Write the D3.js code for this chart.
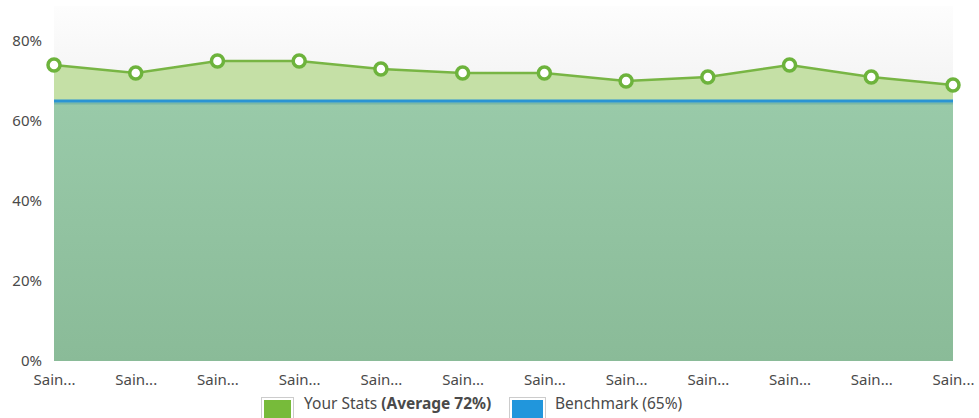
<!DOCTYPE html>
<html>
<head>
<meta charset="utf-8">
<script src="https://cdn.jsdelivr.net/npm/d3@7"></script>
<style>
  body { margin: 0; background: #fff; }
  text { font-family: "Noto Sans", sans-serif; fill: #4a4a4a; }
</style>
</head>
<body>
<svg id="chart" width="979" height="418"></svg>
<script>
// chart data
var categories = ["Sain...", "Sain...", "Sain...", "Sain...", "Sain...", "Sain...",
                  "Sain...", "Sain...", "Sain...", "Sain...", "Sain...", "Sain..."];
var yourStats = [74, 72, 75, 75, 73, 72, 72, 70, 71, 74, 71, 69];
var benchmark = 65;
var yTicks = [0, 20, 40, 60, 80];
var legendLabels = ["Your Stats ", "(Average 72%)", "Benchmark (65%)"];

var svg = d3.select("#chart");
var plotLeft = 54, plotRight = 953, plotTop = 41, plotBottom = 361;

var x = d3.scalePoint()
    .domain(d3.range(categories.length))
    .range([plotLeft, plotRight]);

var y = d3.scaleLinear()
    .domain([0, 80])
    .range([plotBottom, plotTop]);

var defs = svg.append("defs");
var bg = defs.append("linearGradient").attr("id", "bgGrad")
    .attr("x1", 0).attr("y1", 0).attr("x2", 0).attr("y2", 1);
bg.append("stop").attr("offset", "0%").attr("stop-color", "#fdfdfd");
bg.append("stop").attr("offset", "25%").attr("stop-color", "#f3f3f3");
bg.append("stop").attr("offset", "100%").attr("stop-color", "#f3f3f3");

var bm = defs.append("linearGradient").attr("id", "bmGrad")
    .attr("x1", 0).attr("y1", 0).attr("x2", 0).attr("y2", 1);
bm.append("stop").attr("offset", "0%").attr("stop-color", "#99caa9");
bm.append("stop").attr("offset", "100%").attr("stop-color", "#8abb98");

// plot background
svg.append("rect")
    .attr("x", plotLeft).attr("y", 6)
    .attr("width", plotRight - plotLeft).attr("height", plotBottom - 6)
    .attr("fill", "url(#bgGrad)");

// your stats area
var area = d3.area()
    .x(function (d, i) { return x(i); })
    .y0(y(0))
    .y1(function (d) { return y(d); });

svg.append("path")
    .datum(yourStats)
    .attr("d", area)
    .attr("fill", "#c5e0a6");

// benchmark area
svg.append("rect")
    .attr("x", plotLeft).attr("y", y(benchmark))
    .attr("width", plotRight - plotLeft).attr("height", y(0) - y(benchmark))
    .attr("fill", "url(#bmGrad)");

svg.append("line")
    .attr("x1", plotLeft).attr("x2", plotRight)
    .attr("y1", y(benchmark) + 2.5).attr("y2", y(benchmark) + 2.5)
    .attr("stroke", "#7bb8a4").attr("stroke-width", 2);

svg.append("line")
    .attr("x1", plotLeft).attr("x2", plotRight)
    .attr("y1", y(benchmark)).attr("y2", y(benchmark))
    .attr("stroke", "#2a94d3").attr("stroke-width", 3);

// your stats line + markers
var line = d3.line()
    .x(function (d, i) { return x(i); })
    .y(function (d) { return y(d); });

svg.append("path")
    .datum(yourStats)
    .attr("d", line)
    .attr("fill", "none")
    .attr("stroke", "#78b544")
    .attr("stroke-width", 2.5);

svg.selectAll(".dot")
    .data(yourStats)
    .enter().append("circle")
    .attr("class", "dot")
    .attr("cx", function (d, i) { return x(i); })
    .attr("cy", function (d) { return y(d); })
    .attr("r", 6)
    .attr("fill", "#fff")
    .attr("stroke", "#6db33c")
    .attr("stroke-width", 3.5);

// axes
var yAxis = d3.axisLeft(y)
    .tickValues(yTicks)
    .tickFormat(function (d) { return d + "%"; })
    .tickSize(0).tickPadding(12);

svg.append("g")
    .attr("transform", "translate(" + plotLeft + ",0)")
    .call(yAxis)
    .call(function (g) { g.select(".domain").remove(); })
    .selectAll("text")
    .style("font-size", "15px")
    .style("font-family", "'Noto Sans', sans-serif")
    .attr("fill", "#4a4a4a");

var xAxis = d3.axisBottom(x)
    .tickFormat(function (i) { return categories[i]; })
    .tickSize(0).tickPadding(13);

svg.append("g")
    .attr("transform", "translate(0," + plotBottom + ")")
    .call(xAxis)
    .call(function (g) { g.select(".domain").remove(); })
    .selectAll("text")
    .style("font-size", "15px")
    .style("font-family", "'Noto Sans', sans-serif")
    .attr("fill", "#4a4a4a");

// legend
var legend = svg.append("g");
legend.append("rect")
    .attr("x", 261.5).attr("y", 397.5).attr("width", 32).attr("height", 28)
    .attr("fill", "#fff").attr("stroke", "#ccc");
legend.append("rect")
    .attr("x", 264).attr("y", 400).attr("width", 27).attr("height", 24)
    .attr("fill", "#77bb3a");
var t1 = legend.append("text")
    .attr("x", 304).attr("y", 409)
    .style("font-size", "15.5px");
t1.append("tspan").text(legendLabels[0]);
t1.append("tspan").attr("font-weight", "bold").text(legendLabels[1]);

legend.append("rect")
    .attr("x", 509.5).attr("y", 397.5).attr("width", 36).attr("height", 28)
    .attr("fill", "#fff").attr("stroke", "#ccc");
legend.append("rect")
    .attr("x", 512).attr("y", 400).attr("width", 31).attr("height", 24)
    .attr("fill", "#2196dc");
legend.append("text")
    .attr("x", 555).attr("y", 409)
    .style("font-size", "15.5px")
    .text(legendLabels[2]);
</script>
</body>
</html>
